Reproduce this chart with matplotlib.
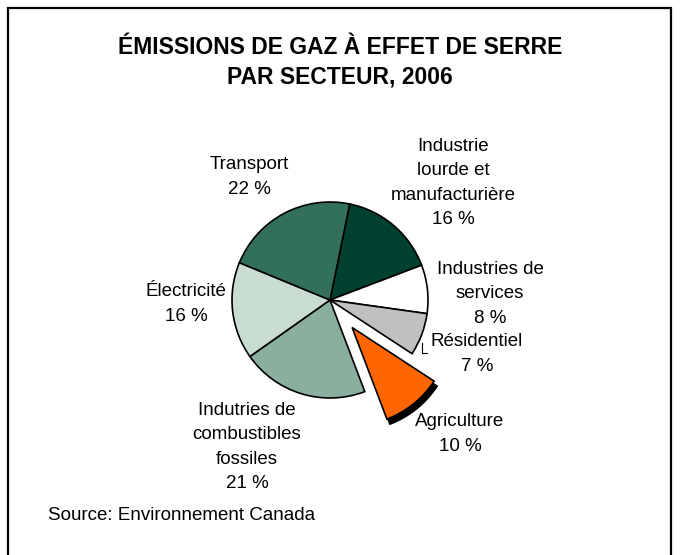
import matplotlib.pyplot as plt
from matplotlib.patches import Wedge, Rectangle

plt.rcParams['font.family'] = ['Liberation Sans', 'DejaVu Sans']

# data, clockwise from the top boundary
secteurs = ["Industrie lourde et manufacturière", "Industries de services", "Résidentiel",
            "Agriculture", "Indutries de combustibles fossiles", "Électricité", "Transport"]
parts = [16, 8, 7, 10, 21, 16, 22]
couleurs = ["#00402F", "#FFFFFF", "#C0C0C0", "#FF6600", "#8AAF9F", "#C8DCD1", "#33705C"]
ecart = [0, 0, 0, 0.36, 0, 0, 0]   # fraction of radius
etiquettes = ["Industrie\nlourde et\nmanufacturière\n16 %", "Industries de\nservices\n8 %",
              "Résidentiel\n7 %", "Agriculture\n10 %", "Indutries de\ncombustibles\nfossiles\n21 %",
              "Électricité\n16 %", "Transport\n22 %"]
# label centres in pixels (x, y from top)
pos_etiq = [(453, 183), (490, 294), (477, 354), (460, 434), (247, 447), (186, 304), (249, 177)]

W, H = 680, 555
fig = plt.figure(figsize=(W / 100, H / 100), dpi=100)
ax = fig.add_axes([0, 0, 1, 1])

# frame (bottom edge runs off the image)
ax.add_patch(Rectangle((8, -10), 663, H - 8 + 10, fill=False, lw=1.6, ec='black'))

cx, cy, r = 330, H - 300, 98
# pie() explode is in data units, so scale by the radius
wedges, _ = ax.pie(parts, colors=couleurs, explode=[e * r for e in ecart], startangle=78.4,
                   counterclock=False, center=(cx, cy), radius=r, frame=True,
                   wedgeprops=dict(edgecolor='black', linewidth=1.2))
ax.set_xlim(0, W)
ax.set_ylim(0, H)
ax.set_aspect('equal')
ax.axis('off')

# shadow under the exploded slice
w = wedges[3]
ombre = Wedge((w.center[0] + 3, w.center[1] - 5), w.r, w.theta1, w.theta2,
              facecolor='black', edgecolor='black', lw=1.2, zorder=w.get_zorder() - 0.5)
ax.add_patch(ombre)

for txt, (x, y) in zip(etiquettes, pos_etiq):
    ax.text(x, H - y, txt, ha='center', va='center', fontsize=13.5, linespacing=1.54)

# leader for Résidentiel
ax.plot([421.7, 421.7, 427], [H - 343, H - 353, H - 353], color='black', lw=0.8)

ax.text(340, H - 48, "ÉMISSIONS DE GAZ À EFFET DE SERRE", ha='center', va='center',
        fontsize=16.5, fontweight='bold')
ax.text(340, H - 77, "PAR SECTEUR, 2006", ha='center', va='center',
        fontsize=16.5, fontweight='bold')
ax.text(48, H - 516, "Source: Environnement Canada", ha='left', va='center', fontsize=13.5)

fig.savefig("out.png", dpi=100)
